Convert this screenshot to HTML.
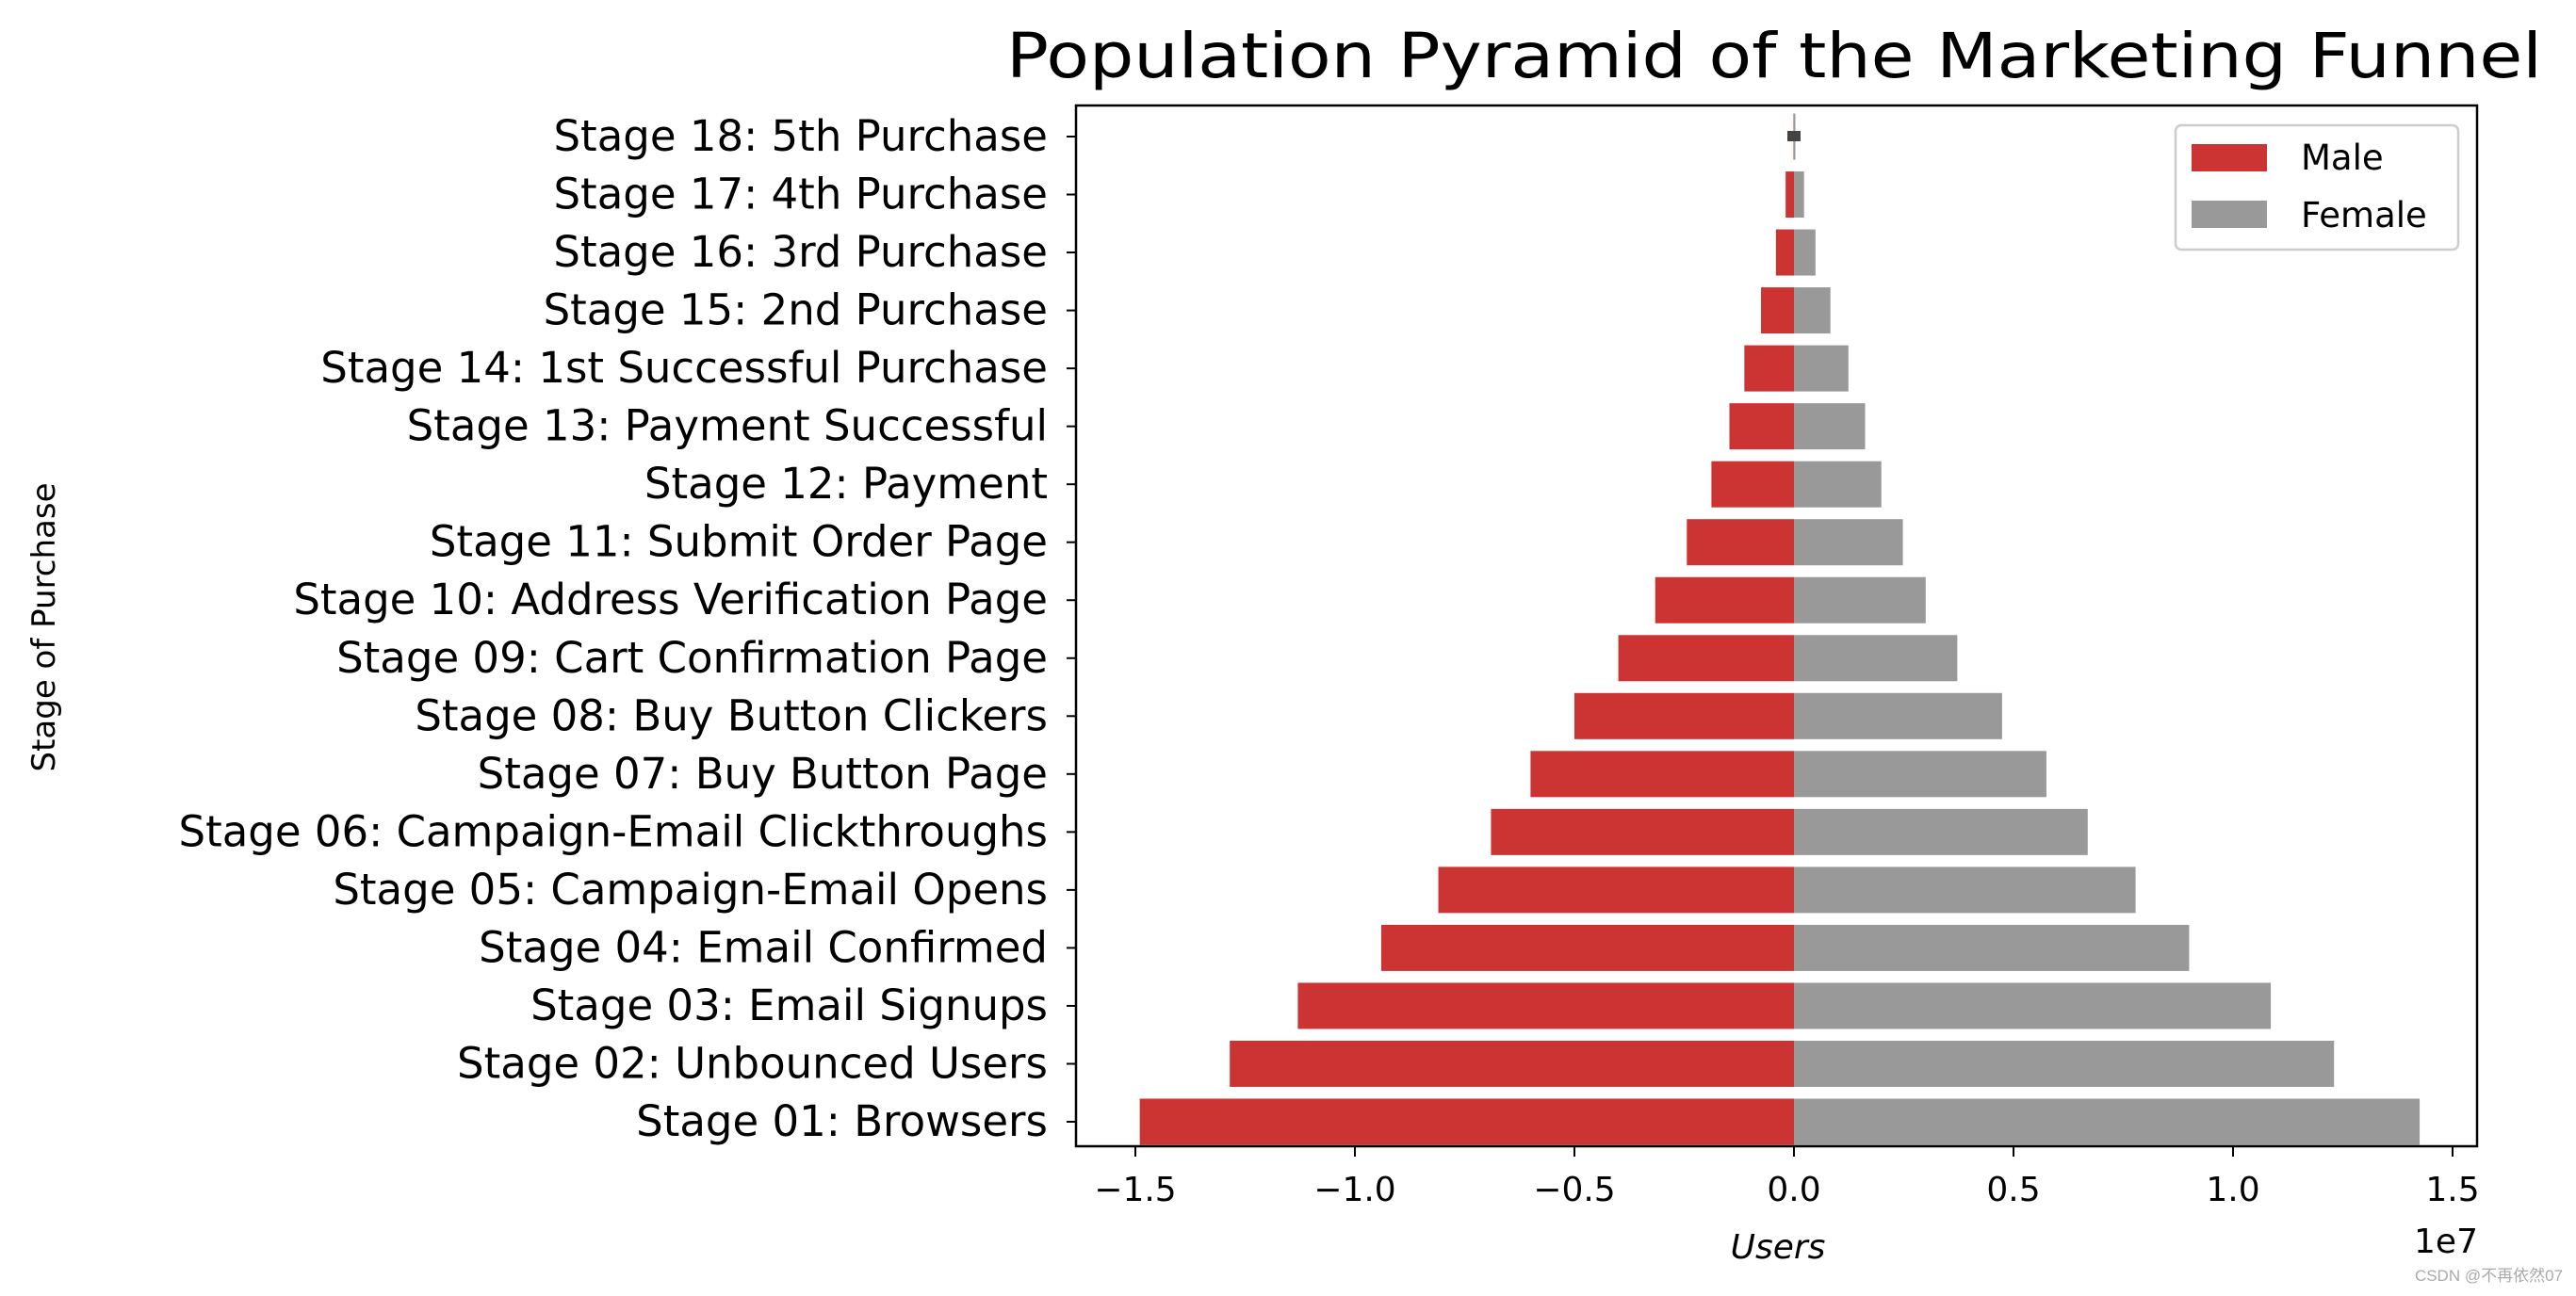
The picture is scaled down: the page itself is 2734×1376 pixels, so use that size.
<!DOCTYPE html>
<html><head><meta charset="utf-8"><style>
html,body{margin:0;padding:0;background:#fff;}
svg{display:block;font-family:"DejaVu Sans","Liberation Sans",sans-serif;}
</style></head><body>
<svg id="chart" width="2734" height="1376" viewBox="0 0 2734 1376" xmlns="http://www.w3.org/2000/svg">
<rect width="2734" height="1376" fill="#fff"/>
<text x="1883" y="82" font-size="66" text-anchor="middle" textLength="1630" lengthAdjust="spacingAndGlyphs">Population Pyramid of the Marketing Funnel</text>
<g id="bars"></g>
<g id="yticks"></g>
<g id="xticks"></g>
<rect x="1142" y="112" width="1487" height="1105" fill="none" stroke="#000" stroke-width="2.5"/>
<text transform="translate(58,666) rotate(-90)" font-size="34" text-anchor="middle">Stage of Purchase</text>
<text x="1887" y="1336" font-size="36" font-style="italic" text-anchor="middle">Users</text>
<text x="2630" y="1330" font-size="36" text-anchor="end">1e7</text>
<g>
<rect x="2309" y="133" width="300" height="132" rx="6" fill="#fff" stroke="#ccc" stroke-width="2.5"/>
<rect x="2326" y="153" width="80" height="29" fill="#cc3333"/>
<text x="2442" y="180" font-size="37">Male</text>
<rect x="2326" y="213" width="80" height="29" fill="#999999"/>
<text x="2442" y="241" font-size="37">Female</text>
</g>
<text x="2720" y="1360" font-size="17" fill="#aaa" text-anchor="end" font-family="Liberation Sans, Noto Sans CJK SC, sans-serif">CSDN @不再依然07</text>
</svg>
<script>
const categories=["Stage 01: Browsers","Stage 02: Unbounced Users","Stage 03: Email Signups","Stage 04: Email Confirmed","Stage 05: Campaign-Email Opens","Stage 06: Campaign-Email Clickthroughs","Stage 07: Buy Button Page","Stage 08: Buy Button Clickers","Stage 09: Cart Confirmation Page","Stage 10: Address Verification Page","Stage 11: Submit Order Page","Stage 12: Payment","Stage 13: Payment Successful","Stage 14: 1st Successful Purchase","Stage 15: 2nd Purchase","Stage 16: 3rd Purchase","Stage 17: 4th Purchase","Stage 18: 5th Purchase"];
const maleValues=[-14900000,-12850000,-11300000,-9400000,-8100000,-6900000,-6000000,-5000000,-4000000,-3160000,-2440000,-1880000,-1470000,-1130000,-750000,-410000,-190000,-10000];
const femaleValues=[14250000,12300000,10860000,9000000,7780000,6690000,5750000,4740000,3720000,3000000,2480000,1990000,1620000,1240000,830000,490000,230000,20000];
const xTicks=[-1.5e7,-1.0e7,-0.5e7,0,0.5e7,1.0e7,1.5e7];
const xTickLabels=["\u22121.5","\u22121.0","\u22120.5","0.0","0.5","1.0","1.5"];
const NS="http://www.w3.org/2000/svg";
const x0=1904, pxPer=466/1e7;
function xs(v){return x0+v*pxPer;}
function ys(i){return 1191-i*(1046/17);}
const bh=49;
const gB=document.getElementById('bars'),gY=document.getElementById('yticks'),gX=document.getElementById('xticks');
function mk(tag,attrs,parent){const e=document.createElementNS(NS,tag);for(const k in attrs)e.setAttribute(k,attrs[k]);parent.appendChild(e);return e;}
categories.forEach((c,i)=>{
  const y=ys(i);
  const m=maleValues[i], f=femaleValues[i];
  const rm=mk('rect',{x:Math.min(xs(m),x0),y:y-bh/2,width:Math.max(Math.abs(xs(m)-x0),1.5),height:bh,fill:'#cc3333'},gB);
  
  
  const rf=mk('rect',{x:x0,y:y-bh/2,width:Math.max(xs(f)-x0,1.5),height:bh,fill:'#999999'},gB);
  
  
  const tk=mk('line',{x1:1132,x2:1142,y1:y,y2:y,stroke:'#000','stroke-width':2},gY);
  
  
  const t=mk('text',{x:1112,y:y+15,'font-size':45,'text-anchor':'end'},gY);
  t.textContent=c;
  
  
});
const last=categories.length-1;
const dk=mk('rect',{x:x0-7,y:ys(last)-6,width:14,height:11,fill:'#444'},gB);


xTicks.forEach((v,i)=>{
  const x=xs(v);
  const l=mk('line',{x1:x,x2:x,y1:1217,y2:1228,stroke:'#000','stroke-width':2},gX);
  
  
  const t=mk('text',{x:x,y:1275,'font-size':36,'text-anchor':'middle'},gX);
  t.textContent=xTickLabels[i];
  
  
});
</script>
</body></html>
